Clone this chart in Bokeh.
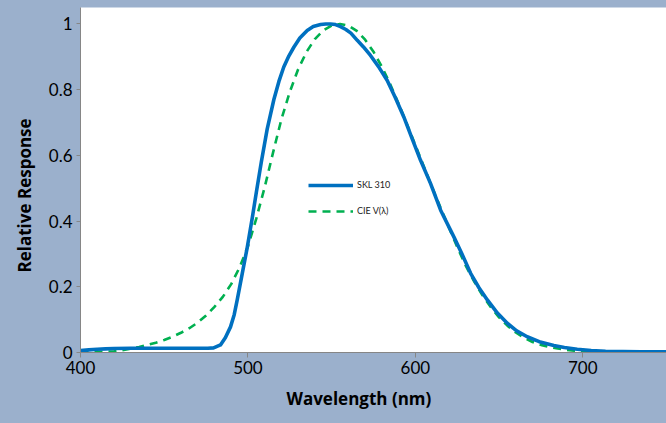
from bokeh.plotting import figure
from bokeh.embed import file_html
from bokeh.resources import INLINE
from bokeh.models import FixedTicker, CustomJSTickFormatter, Title

# ---- data ----
x_ticks = [400, 500, 600, 700]
y_ticks = [0, 0.2, 0.4, 0.6, 0.8, 1.0]

skl_nm = [400, 405, 410, 415, 420, 430, 440, 450, 460, 470, 476, 479.5, 483.6, 486.5,
          489.6, 491.8, 493.6, 496.6, 499.6, 502.6, 505.1, 508, 511.5, 515.5, 518.5,
          521.4, 524.5, 527.4, 531, 535.4, 539, 543.4, 546.5, 549.3, 552.3, 555.3, 558.5,
          561.5, 565.3, 569, 573.2, 578, 583.2, 588, 593.1, 598, 603.1, 609.1,
          615.1, 623, 628, 633, 638, 643, 649, 654.9, 660.5, 666.8, 674, 682.7, 689,
          696.7, 705, 713.6, 734.5, 750]
skl_val = [0.006, 0.008, 0.010, 0.011, 0.012, 0.013, 0.013, 0.013, 0.013, 0.013, 0.013,
           0.014, 0.023, 0.045, 0.078, 0.115, 0.16, 0.24, 0.32, 0.41, 0.49, 0.58, 0.68,
           0.77, 0.825, 0.869, 0.903, 0.929, 0.957, 0.98, 0.992, 0.998, 1.0, 1.0, 0.998,
           0.992, 0.983, 0.972, 0.95, 0.93, 0.904, 0.87, 0.828, 0.776, 0.717, 0.652,
           0.585, 0.514, 0.433, 0.352, 0.298, 0.241, 0.197, 0.16, 0.12, 0.089, 0.066,
           0.048, 0.033, 0.021, 0.015, 0.010, 0.006, 0.004, 0.002, 0.002]

cie_nm = [400, 405, 410, 415, 420, 425, 430, 435, 440, 445, 450, 455, 460, 465, 470, 475,
          480, 485, 490, 495, 500, 505, 510, 515, 520, 525, 530, 535, 540, 545, 550, 555,
          560, 565, 570, 575, 580, 585, 590, 595, 600, 605, 610, 615, 620, 625, 630, 635,
          640, 645, 650, 655, 660, 665, 670, 675, 680, 685, 690, 695, 700, 705, 710, 715,
          720, 725, 730, 735, 740, 745, 750]
cie_val = [0.0004, 0.00064, 0.00121, 0.00218, 0.004, 0.0073, 0.0116, 0.01684, 0.023,
           0.0298, 0.038, 0.048, 0.06, 0.0739, 0.091, 0.1126, 0.139, 0.1693, 0.208, 0.2586,
           0.323, 0.4073, 0.503, 0.6082, 0.71, 0.7932, 0.862, 0.91485, 0.954, 0.9803,
           0.99495, 1.0, 0.995, 0.9786, 0.952, 0.9154, 0.87, 0.8163, 0.757, 0.6949, 0.631,
           0.5668, 0.503, 0.4412, 0.381, 0.321, 0.265, 0.217, 0.175, 0.1382, 0.107, 0.0816,
           0.061, 0.04458, 0.032, 0.0232, 0.017, 0.01192, 0.00821, 0.005723, 0.0041,
           0.00293, 0.00209, 0.00148, 0.00105, 0.00074, 0.00052, 0.00036, 0.00025,
           0.00017, 0.00012]

series_names = ["SKL 310", "CIE V(λ)"]
x_title = "Wavelength (nm)"
y_title = "Relative Response"

BG = "#9BB0CC"
FONT = "Lato"
TITLE_FONT = "Open Sans"

p = figure(width=666, height=423, x_range=(400, 750), y_range=(0, 1.05),
           output_backend="svg", toolbar_location=None,
           min_border_left=80, min_border_right=0, min_border_top=7, min_border_bottom=71)
p.background_fill_color = "white"
p.border_fill_color = BG
p.outline_line_color = None
p.grid.visible = False

p.line(cie_nm, cie_val, line_color="#00B050", line_width=2.6, line_dash="8 6",
       legend_label=series_names[1])
p.line(skl_nm, skl_val, line_color="#0070C0", line_width=3.6, line_join="round",
       legend_label=series_names[0])

xax = p.xaxis[0]
yax = p.yaxis[0]
for ax in (xax, yax):
    ax.axis_line_color = "#868686"
    ax.major_tick_line_color = "#868686"
    ax.minor_tick_line_color = None
    ax.major_tick_in = 0
    ax.major_label_text_font = FONT
    ax.major_label_text_font_size = "17px"
    ax.major_label_text_color = "black"
    ax.formatter = CustomJSTickFormatter(code="return String(tick);")

xax.ticker = FixedTicker(ticks=x_ticks)
yax.ticker = FixedTicker(ticks=y_ticks)
xax.major_tick_out = 5
yax.major_tick_out = 4
xax.major_label_standoff = 3
yax.major_label_standoff = 4

p.add_layout(Title(text=x_title, align="left", offset=206, vertical_align="middle",
                   text_font=TITLE_FONT, text_font_style="bold", text_font_size="17px",
                   text_color="black", standoff=19), "below")
p.add_layout(Title(text=y_title, align="left", offset=80, vertical_align="middle",
                   text_font=TITLE_FONT, text_font_style="bold", text_font_size="17px",
                   text_color="black", standoff=18), "left")

lg = p.legend[0]
lg.location = (228, 131.5)
lg.items = [lg.items[1], lg.items[0]]
lg.background_fill_alpha = 0
lg.border_line_color = None
lg.padding = 0
lg.margin = 0
lg.spacing = 6
lg.glyph_width = 45
lg.glyph_height = 20
lg.label_height = 20
lg.label_standoff = 4
lg.label_text_font = FONT
lg.label_text_font_size = "9px"
lg.label_text_color = "#222222"

template = """
{% block postamble %}
<style>html, body { margin: 0; padding: 0; background: #9BB0CC; overflow: hidden; }</style>
{% endblock %}
"""

open("out.html", "w").write(file_html(p, INLINE, template=template))
